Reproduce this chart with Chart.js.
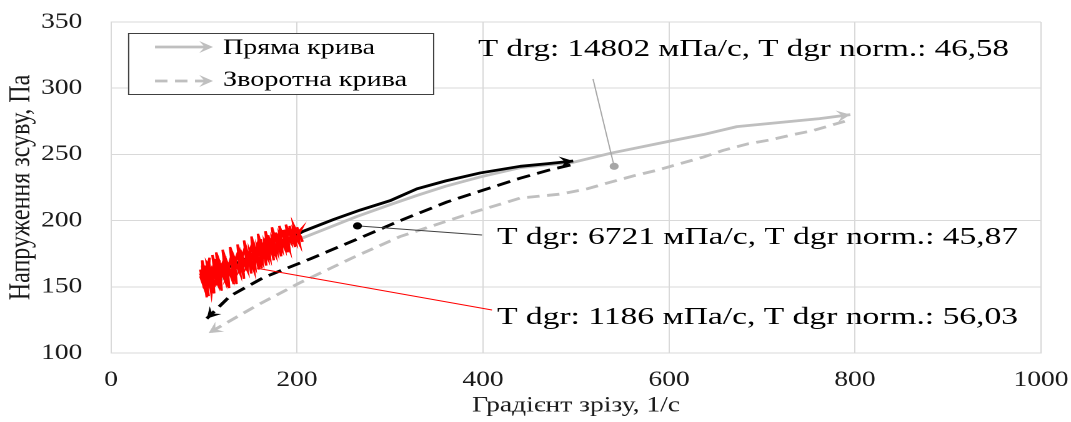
<!DOCTYPE html>
<html>
<head>
<meta charset="utf-8">
<script src="https://cdn.jsdelivr.net/npm/chart.js@4/dist/chart.umd.min.js"></script>
<style>
  html, body { margin: 0; padding: 0; background: #fff; overflow: hidden; }
  /* the drawing is laid out narrow and widened, which gives the serif text its broad look */
  #wrap { width: 857px; height: 422px; transform: scaleX(1.2497); transform-origin: 0 0; }
</style>
</head>
<body>
<div id="wrap"><canvas id="chart"></canvas></div>
<script>
const FONT = "'Liberation Serif', 'Times New Roman', serif";

// Axis ticks
const xTicks = [0, 200, 400, 600, 800, 1000];
const yTicks = [100, 150, 200, 250, 300, 350];

// Forward (gray) flow curve
const fwdGrayX = [100, 130, 160, 196, 210, 246, 264, 300, 329, 360, 397, 440, 497, 538, 601, 637, 673, 762, 795];
const fwdGrayY = [148, 160, 171, 184, 188, 198, 203, 212, 219, 226, 233, 240, 244, 251, 260, 265, 271, 277, 280];

// Reverse (gray) flow curve, from high shear rate back down
const revGrayX = [789, 755, 734, 709, 685, 658, 637, 612, 587, 563, 537, 512, 483, 440, 393, 311, 260, 203, 157, 105];
const revGrayY = [275, 268, 265, 261, 258, 253, 248, 243, 238, 234, 229, 224, 220, 217, 207, 188, 172, 153, 136, 115];

// Forward (black) flow curve
const fwdBlackX = [100, 130, 160, 190, 207, 240, 268, 300, 329, 360, 397, 440, 470, 497];
const fwdBlackY = [157, 166, 176, 186, 192, 201, 208, 215, 224, 230, 236, 241, 243, 245];

// Reverse (black) flow curve
const revBlackX = [494, 470, 440, 400, 361, 311, 268, 214, 164, 128, 103];
const revBlackY = [242, 238, 232, 223, 214, 200, 187, 171, 157, 143, 126];

// Noisy low-shear measurement (red): up-sweep then down-sweep
const noisyX = [96, 100, 98, 103, 97, 105, 101, 99, 106, 104, 110, 103, 108, 112, 107, 113, 109, 115, 111, 117,
                114, 118, 113, 121, 116, 123, 119, 125, 120, 127, 124, 130, 126, 132, 128, 135, 131, 137, 133, 139,
                136, 142, 138, 144, 141, 147, 143, 149, 146, 152, 148, 154, 151, 157, 153, 159, 156, 162, 158, 164,
                161, 167, 163, 169, 166, 172, 168, 174, 171, 177, 173, 179, 176, 182, 178, 184, 181, 187, 183, 189,
                186, 192, 188, 194, 191, 197, 193, 199, 196, 202, 199, 205, 201, 204,
                206, 200, 203, 196, 198, 192, 194, 188, 190, 185, 187, 181, 183, 177, 179, 173, 175, 169, 171, 165,
                167, 161, 163, 157, 159, 153, 155, 149, 151, 145, 147, 141, 143, 137, 139, 133, 135, 129, 131, 125,
                127, 121, 123, 117, 119, 113, 115, 109, 111, 105, 107, 101, 103, 98, 100, 96];
const noisyY = [163, 149, 170, 155, 158, 143, 166, 152, 172, 150, 160, 168, 145, 171, 157, 153, 174, 158, 150, 170,
                163, 148, 176, 160, 155, 173, 166, 150, 178, 162, 158, 175, 164, 152, 180, 166, 159, 177, 169, 160,
                182, 168, 163, 180, 171, 162, 185, 170, 166, 183, 174, 162, 188, 172, 169, 186, 177, 164, 190, 175,
                171, 188, 180, 171, 192, 178, 174, 190, 183, 174, 195, 181, 177, 193, 186, 178, 196, 184, 180, 194,
                188, 178, 197, 186, 184, 195, 190, 183, 197, 188, 186, 194, 191, 188,
                184, 195, 182, 192, 180, 196, 183, 190, 176, 193, 179, 189, 173, 191, 176, 186, 170, 189, 172, 183,
                166, 186, 169, 180, 163, 184, 166, 177, 160, 181, 163, 174, 156, 178, 160, 171, 152, 175, 157, 168,
                149, 172, 154, 165, 147, 170, 152, 162, 145, 168, 149, 160, 142, 166, 150, 158];

// Callouts: anchor point and text
const noteX = [541, 265, 157];
const noteY = [241, 196, 164];
const noteText = [
  'T drg: 14802 мПа/с, T dgr norm.: 46,58',
  'T dgr: 6721 мПа/с, T dgr norm.: 45,87',
  'T dgr: 1186 мПа/с, T dgr norm.: 56,03'
];

const legendLabels = ['Пряма крива', 'Зворотна крива'];

const GRAY = '#BFBFBF';
const S = 1.2497;
const pts = (xs, ys) => xs.map((x, i) => ({ x, y: ys[i] }));

const lineSet = (label, xs, ys, color, dash, order, width, join) => ({
  label, data: pts(xs, ys), showLine: true, borderColor: color, backgroundColor: color,
  borderWidth: width, borderDash: dash, pointRadius: 0, pointHoverRadius: 0, tension: 0, order,
  borderCapStyle: 'butt', borderJoinStyle: join || 'round'
});

const datasets = [
  lineSet(legendLabels[0], fwdGrayX, fwdGrayY, GRAY, [], 3, 2.8),
  lineSet(legendLabels[1], revGrayX, revGrayY, GRAY, [10, 6], 4, 2.8),
  lineSet('fwd-black', fwdBlackX, fwdBlackY, '#000000', [], 1, 2.8),
  lineSet('rev-black', revBlackX, revBlackY, '#000000', [11, 6], 2, 2.8),
  lineSet('noisy', noisyX, noisyY, '#FF0000', [], 0, 2, 'miter')
];
const arrowed = [0, 1, 2, 3];

function arrowHead(ctx, x, y, ang, color, size) {
  ctx.save();
  ctx.translate(x, y);
  ctx.rotate(ang);
  ctx.fillStyle = color;
  ctx.beginPath();
  ctx.moveTo(0, 0);
  ctx.lineTo(-size, size * 0.55);
  ctx.lineTo(-size * 0.6, 0);
  ctx.lineTo(-size, -size * 0.55);
  ctx.closePath();
  ctx.fill();
  ctx.restore();
}

function fitText(ctx, text, x, y, width, font) {
  ctx.save();
  ctx.font = font;
  ctx.textBaseline = 'alphabetic';
  const w = ctx.measureText(text).width;
  ctx.translate(x, y);
  ctx.scale(width / w, 1);
  ctx.fillText(text, 0, 0);
  ctx.restore();
}

const decor = {
  id: 'decor',
  afterDatasetsDraw(chart) {
    const ctx = chart.ctx;
    // arrowheads at the last point of each flow curve
    arrowed.forEach(i => {
      const els = chart.getDatasetMeta(i).data;
      const a = els[els.length - 2], b = els[els.length - 1];
      arrowHead(ctx, b.x, b.y, Math.atan2(b.y - a.y, b.x - a.x), chart.data.datasets[i].borderColor, 11);
    });

    const sx = chart.scales.x, sy = chart.scales.y;
    // callouts: leader line end, text position, width, colours
    const notes = [
      { end: [593 / S, 79], tx: 478 / S, ty: 56, tw: 531 / S, line: '#A6A6A6', dot: '#A6A6A6' },
      { end: [482 / S, 235], tx: 497 / S, ty: 244, tw: 521 / S, line: '#404040', dot: '#000000' },
      { end: [492 / S, 310], tx: 497 / S, ty: 324, tw: 521 / S, line: '#FF0000', dot: null }
    ];
    notes.forEach((n, i) => {
      const px = sx.getPixelForValue(noteX[i]);
      const py = sy.getPixelForValue(noteY[i]);
      ctx.save();
      ctx.strokeStyle = n.line;
      ctx.lineWidth = 1;
      ctx.beginPath();
      ctx.moveTo(px, py);
      ctx.lineTo(n.end[0], n.end[1]);
      ctx.stroke();
      if (n.dot) {
        ctx.fillStyle = n.dot;
        ctx.beginPath();
        ctx.arc(px, py, 3.6, 0, Math.PI * 2);
        ctx.fill();
      }
      ctx.restore();
      ctx.fillStyle = '#000000';
      fitText(ctx, noteText[i], n.tx, n.ty, n.tw, '24px ' + FONT);
    });

    // legend box
    const bx = 128 / S, by = 33, bw = (433 - 128) / S, bh = 61;
    ctx.save();
    ctx.fillStyle = '#FFFFFF';
    ctx.fillRect(bx, by, bw, bh);
    ctx.strokeStyle = '#404040';
    ctx.lineWidth = 1;
    ctx.strokeRect(bx + 0.5, by + 0.5, bw, bh);
    const rows = [47, 81];
    const baselines = [54, 86];
    const widths = [152 / S, 184 / S];
    [0, 1].forEach(i => {
      const ds = chart.data.datasets[i];
      const x0 = 155 / S, x1 = 213 / S;
      ctx.strokeStyle = ds.borderColor;
      ctx.lineWidth = ds.borderWidth;
      ctx.setLineDash(ds.borderDash);
      ctx.beginPath();
      ctx.moveTo(x0, rows[i]);
      ctx.lineTo(x1 - 4, rows[i]);
      ctx.stroke();
      ctx.setLineDash([]);
      arrowHead(ctx, x1, rows[i], 0, ds.borderColor, 11);
      ctx.fillStyle = '#000000';
      fitText(ctx, ds.label, 223 / S, baselines[i], widths[i], '22px ' + FONT);
    });
    ctx.restore();
  }
};

new Chart(document.getElementById('chart'), {
  type: 'scatter',
  data: { datasets },
  options: {
    responsive: true,
    maintainAspectRatio: false,
    devicePixelRatio: 2,
    animation: false,
    events: [],
    layout: { padding: { top: 22, right: 857 - 1041 / S, left: 0, bottom: 0 } },
    plugins: { legend: { display: false }, tooltip: { enabled: false } },
    scales: {
      x: {
        type: 'linear',
        min: xTicks[0], max: xTicks[xTicks.length - 1],
        afterBuildTicks: s => { s.ticks = xTicks.map(v => ({ value: v })); },
        afterFit: s => { s.height = 69; s.paddingLeft = 0; s.paddingRight = 0; },
        ticks: { font: { family: FONT, size: 22 }, color: '#1A1A1A', padding: 14, callback: v => String(v) },
        grid: { color: '#D9D9D9', lineWidth: 1, drawTicks: false },
        border: { color: '#D9D9D9', width: 1 },
        title: { display: true, text: 'Градієнт зрізу, 1/с', font: { family: FONT, size: 22 }, color: '#1A1A1A', padding: { top: 0, bottom: 3 } }
      },
      y: {
        type: 'linear',
        min: yTicks[0], max: yTicks[yTicks.length - 1],
        afterBuildTicks: s => { s.ticks = yTicks.map(v => ({ value: v })); },
        afterFit: s => { s.width = 111 / S; s.paddingTop = 0; s.paddingBottom = 0; },
        ticks: { font: { family: FONT, size: 22 }, color: '#1A1A1A', padding: 23, callback: v => String(v) },
        grid: { color: '#D9D9D9', lineWidth: 1, drawTicks: false },
        border: { color: '#D9D9D9', width: 1 },
        title: { display: true, text: 'Напруження зсуву, Па', font: { family: FONT, size: 24 }, color: '#1A1A1A', padding: { top: 3, bottom: 0 } }
      }
    }
  },
  plugins: [decor]
});
</script>
</body>
</html>
